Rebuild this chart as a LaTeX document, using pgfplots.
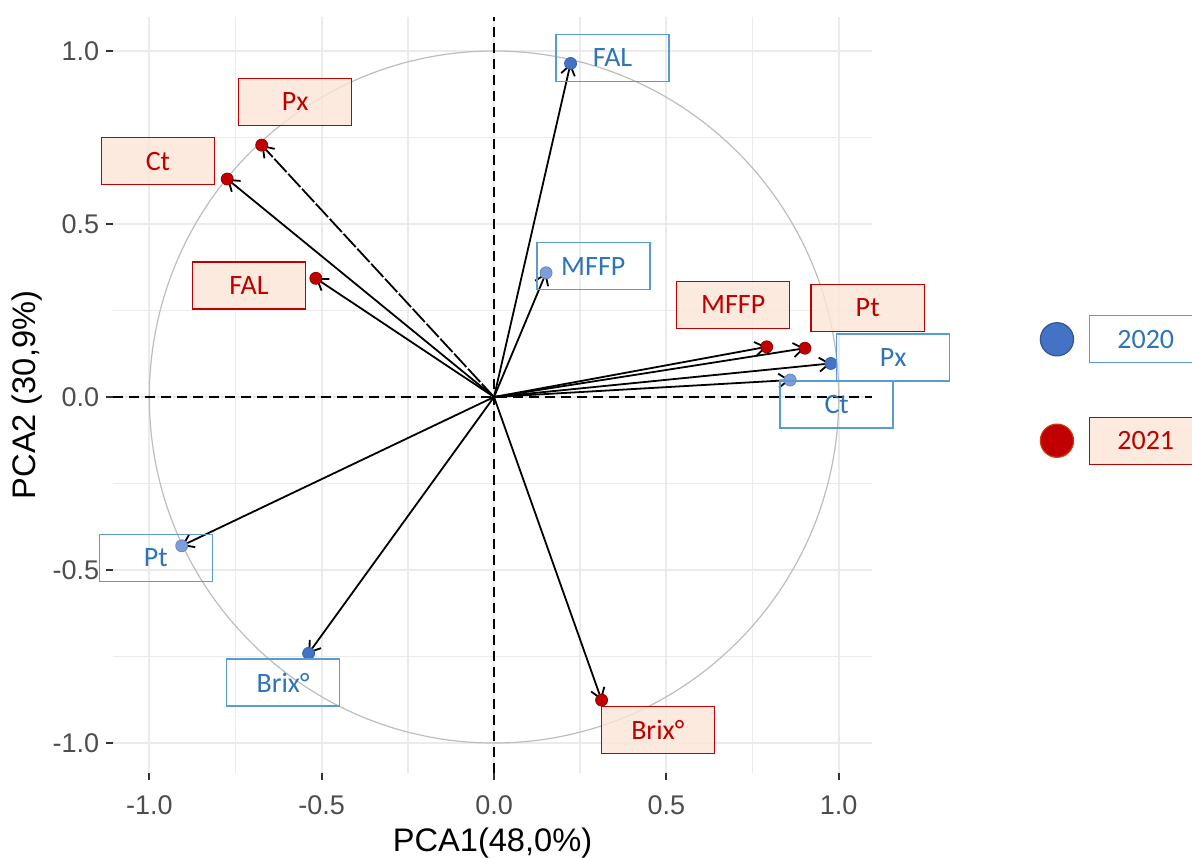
\documentclass[border=0pt]{standalone}
\usepackage{pgfplots}
\pgfplotsset{compat=1.18}
\usepackage{pgfplotstable}
\usepackage{fontspec}
\setmainfont{Liberation Sans}
\newfontfamily\calibri{Carlito}
\usetikzlibrary{arrows.meta}
\definecolor{gridgrey}{HTML}{EBEBEB}
\definecolor{tickgrey}{HTML}{333333}
\definecolor{ticktext}{HTML}{4D4D4D}
\definecolor{circgrey}{HTML}{BDBDBD}
\definecolor{bluedark}{HTML}{4472C4}
\definecolor{bluelight}{HTML}{7F9CDC}
\definecolor{blueline}{HTML}{5B9BD5}
\definecolor{bluetext}{HTML}{2E75B6}
\definecolor{redmain}{HTML}{C00000}
\definecolor{redfill}{HTML}{FBE5D6}

% 2020 loadings: x y shade label-x label-y
\pgfplotstableread{
name x y shade lx ly
FAL 0.222 0.964 d 0.344 0.980
MFFP 0.151 0.359 l 0.288 0.378
Px 0.977 0.097 d 1.158 0.114
Ct 0.859 0.049 l 0.994 -0.022
Pt -0.906 -0.430 l -0.981 -0.465
Brix° -0.538 -0.741 d -0.612 -0.825
}\tabA
% 2021 loadings
\pgfplotstableread{
name x y lx ly
Px -0.674 0.728 -0.577 0.853
Ct -0.774 0.630 -0.975 0.682
FAL -0.517 0.343 -0.711 0.322
MFFP 0.791 0.145 0.694 0.266
Pt 0.902 0.141 1.084 0.258
Brix° 0.312 -0.876 0.475 -0.962
}\tabB

\tikzset{
  boxfont/.style={font=\calibri\fontsize{14}{16}\selectfont},
  bluebox/.style={boxfont, draw=blueline, line width=0.7pt, text=bluetext,
     minimum width=56.5pt, minimum height=23.5pt, inner sep=0pt, anchor=center},
  redbox/.style={boxfont, draw=redmain, line width=0.7pt, fill=redfill, fill opacity=0.8,
     text opacity=1, text=redmain, minimum width=56.5pt, minimum height=23.5pt, inner sep=0pt, anchor=center},
  vec/.style={black, line width=0.9pt, -{Straight Barb[length=5pt,width=7pt]}},
}

\begin{document}
\begin{tikzpicture}
\begin{axis}[
  scale only axis, width=379.2pt, height=378.3pt,
  xmin=-1.1045, xmax=1.0957, ymin=-1.0876, ymax=1.0991,
  axis line style={draw=none},
  xtick={-1,-0.5,0,0.5,1}, ytick={-1,-0.5,0,0.5,1},
  xticklabels={-1.0,-0.5,0.0,0.5,1.0}, yticklabels={-1.0,-0.5,0.0,0.5,1.0},
  minor xtick={-0.75,-0.25,0.25,0.75}, minor ytick={-0.75,-0.25,0.25,0.75},
  grid=both,
  major grid style={draw=gridgrey, line width=1pt},
  minor grid style={draw=gridgrey, line width=0.8pt},
  tick pos=left, tick align=outside,
  major tick length=3.5pt, minor tick length=0pt,
  tick style={draw=tickgrey, line width=1pt},
  tick label style={font=\fontsize{13.5}{15}\selectfont, text=ticktext},
  xticklabel style={yshift=-4pt},
  xlabel={PCA1(48,0\%)}, ylabel={PCA2 (30,9\%)},
  every axis x label/.style={at={(axis description cs:0.5,-0.0921)}, anchor=center,
     font=\fontsize{16.3}{18}\selectfont, text=black},
  every axis y label/.style={at={(axis description cs:-0.1138,0.5)}, anchor=center, rotate=90,
     font=\fontsize{16.3}{18}\selectfont, text=black},
  clip=false,
]
\coordinate (bbsw) at (rel axis cs:-0.1494,-0.1119);
\coordinate (bbne) at (rel axis cs:1.4223,1.0221);
% unit circle and reference lines
\draw[circgrey, line width=0.6pt] (axis cs:0,0) circle[radius=1];
\draw[black, line width=0.75pt, dash pattern=on 5pt off 3pt] (axis cs:0,-1.0876) -- (axis cs:0,1.0991);
\draw[black, line width=0.75pt, dash pattern=on 5pt off 3pt] (axis cs:-1.1045,0) -- (axis cs:1.0957,0);
% arrows
\addplot[vec, quiver={u=\thisrow{x}, v=\thisrow{y}}] table[x expr=0, y expr=0]{\tabA};
\addplot[vec, quiver={u=\thisrow{x}, v=\thisrow{y}}, skip coords between index={0}{1}] table[x expr=0, y expr=0]{\tabB};
\addplot[vec, dash pattern=on 9pt off 1.2pt, quiver={u=\thisrow{x}, v=\thisrow{y}}, skip coords between index={1}{6}] table[x expr=0, y expr=0]{\tabB};
% points
\addplot[scatter, only marks, mark=*, mark size=3pt, point meta=explicit symbolic,
  scatter/classes={d={fill=bluedark, draw=bluedark!85!black}, l={fill=bluelight, draw=bluelight!85!black}}]
  table[x=x, y=y, meta=shade]{\tabA};
\addplot[only marks, mark=*, mark size=3pt, mark options={fill=redmain, draw=redmain!75!black}]
  table[x=x, y=y]{\tabB};
% label boxes
\addplot[draw=none, nodes near coords, point meta=explicit symbolic,
  every node near coord/.style={bluebox}] table[x=lx, y=ly, meta=name]{\tabA};
\addplot[draw=none, nodes near coords, point meta=explicit symbolic,
  every node near coord/.style={redbox}] table[x=lx, y=ly, meta=name]{\tabB};
% legend
\addplot[only marks, mark=*, mark size=8.3pt, mark options={fill=bluedark, draw=bluedark!75!black, line width=0.6pt}] coordinates {(1.633,0.1668)};
\addplot[only marks, mark=*, mark size=8.3pt, mark options={fill=redmain, draw=orange!60!red!80!black, line width=0.6pt}] coordinates {(1.633,-0.1263)};
\node[bluebox] at (axis cs:1.8906,0.1668) {2020};
\node[redbox] at (axis cs:1.8906,-0.1263) {2021};
\end{axis}
\pgfresetboundingbox
\useasboundingbox (bbsw) rectangle (bbne);
\end{tikzpicture}
\end{document}
